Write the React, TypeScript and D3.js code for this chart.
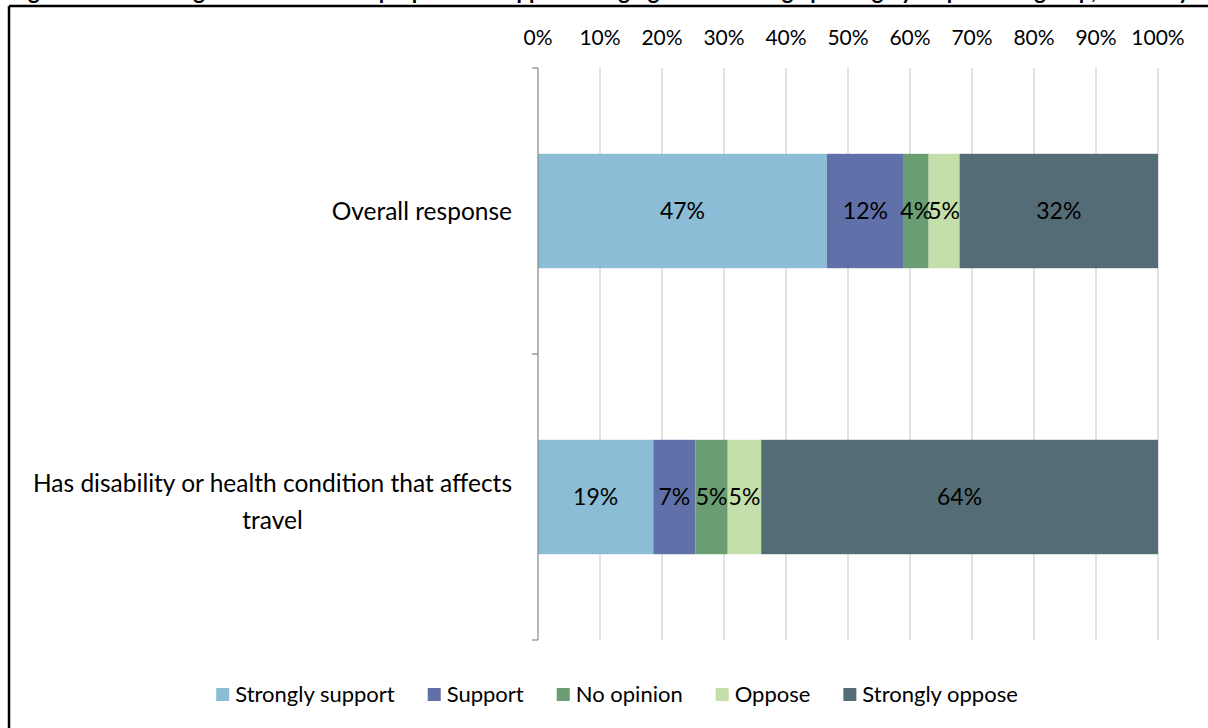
import React, { useEffect, useRef } from "react";
import * as d3 from "d3";

const categories = ["Overall response", "Has disability or health condition that affects travel"];
const categoryLines = [["Overall response"], ["Has disability or health condition that affects", "travel"]];
const seriesNames = ["Strongly support", "Support", "No opinion", "Oppose", "Strongly oppose"];
const seriesColors = ["#8cbdd6", "#6070a9", "#6a9e72", "#c4dfa9", "#546c75"];
const overallValues = [46.6, 12.4, 4.0, 5.0, 32.0];
const disabilityValues = [18.6, 6.8, 5.2, 5.4, 64.0];
const tickValues = [0, 10, 20, 30, 40, 50, 60, 70, 80, 90, 100];
const titleText = "Figure 6: Level of agreement with the proposal to support charging for blue badge parking by respondent group, disability and mobility status (%)";

const FONT = "Lato, 'Noto Sans', sans-serif";

export default function App() {
  const ref = useRef<SVGSVGElement>(null);

  useEffect(() => {
    const svg = d3.select(ref.current);
    svg.selectAll("*").remove();

    const W = 1208, H = 728;
    const left = 538, right = 1158, top = 68, bottom = 640;

    const x = d3.scaleLinear().domain([0, 100]).range([left, right]);
    const y = d3.scaleBand<string>().domain(categories).range([top, bottom]).paddingInner(0).paddingOuter(0);
    const barH = y.bandwidth() * 0.4;

    // title (clipped at top, as in the source)
    svg.append("text")
      .attr("x", 10).attr("y", -1)
      .attr("font-family", "Lato, sans-serif").attr("font-weight", "bold").attr("font-size", 22)
      .attr("fill", "#000")
      .text(titleText);

    // frame
    svg.append("line").attr("x1", 9).attr("x2", W).attr("y1", 6).attr("y2", 6)
      .attr("stroke", "#000").attr("stroke-width", 2.5);
    svg.append("line").attr("x1", 9).attr("x2", 9).attr("y1", 6).attr("y2", H)
      .attr("stroke", "#000").attr("stroke-width", 2.5);

    // gridlines
    svg.append("g").selectAll("line").data(tickValues.slice(1)).join("line")
      .attr("x1", d => x(d)).attr("x2", d => x(d))
      .attr("y1", top).attr("y2", bottom)
      .attr("stroke", "#d9d9d9").attr("stroke-width", 1.5);

    // tick labels
    svg.append("g").selectAll("text").data(tickValues).join("text")
      .attr("x", d => x(d)).attr("y", 45)
      .attr("text-anchor", "middle")
      .attr("font-family", FONT).attr("font-size", 21).attr("fill", "#000")
      .text(d => d + "%");

    // bars
    const rows = [overallValues, disabilityValues];
    rows.forEach((vals, i) => {
      const cat = categories[i];
      const by = (y(cat) as number) + (y.bandwidth() - barH) / 2;
      let acc = 0;
      const segs = vals.map((v, j) => {
        const s = { x0: acc, x1: acc + v, v, j };
        acc += v;
        return s;
      });
      const g = svg.append("g");
      g.selectAll("rect").data(segs).join("rect")
        .attr("x", d => x(d.x0)).attr("width", d => x(d.x1) - x(d.x0))
        .attr("y", by).attr("height", barH)
        .attr("fill", d => seriesColors[d.j]);
      g.selectAll("text").data(segs).join("text")
        .attr("x", d => (x(d.x0) + x(d.x1)) / 2)
        .attr("y", by + barH / 2 + 8)
        .attr("text-anchor", "middle")
        .attr("font-family", FONT).attr("font-size", 23).attr("fill", "#000")
        .text(d => Math.round(d.v) + "%");

      // category label
      const lines = categoryLines[i];
      const cy = (y(cat) as number) + y.bandwidth() / 2 + (lines.length > 1 ? 4 : 0);
      const lineH = 37;
      const t = svg.append("text")
        .attr("font-family", FONT).attr("font-size", 24.5).attr("fill", "#000")
        .attr("text-anchor", "middle");
      const tmp: any[] = [];
      lines.forEach((ln, k) => {
        tmp.push(t.append("tspan").attr("y", cy + 9 + (k - (lines.length - 1) / 2) * lineH).text(ln));
      });
      let maxW = 0;
      tmp.forEach(ts => { maxW = Math.max(maxW, (ts.node() as SVGTSpanElement).getComputedTextLength()); });
      const centerX = 512 - maxW / 2;
      tmp.forEach(ts => ts.attr("x", centerX));
    });

    // y axis line and ticks
    svg.append("line").attr("x1", left).attr("x2", left).attr("y1", top).attr("y2", bottom)
      .attr("stroke", "#868686").attr("stroke-width", 1.2);
    const ticksY = [top, ...categories.map(c => (y(c) as number) + y.bandwidth())];
    svg.append("g").selectAll("line").data(ticksY).join("line")
      .attr("x1", left - 6).attr("x2", left).attr("y1", d => d).attr("y2", d => d)
      .attr("stroke", "#868686").attr("stroke-width", 1.2);

    // legend
    const lg = svg.append("g");
    const items = seriesNames.map((name, i) => {
      const gi = lg.append("g");
      gi.append("rect").attr("width", 13).attr("height", 13).attr("y", -14).attr("fill", seriesColors[i]);
      const tx = gi.append("text").attr("x", 19).attr("y", 0)
        .attr("font-family", FONT).attr("font-size", 22).attr("fill", "#000").text(name);
      const w = 19 + (tx.node() as SVGTextElement).getComputedTextLength();
      return { gi, w };
    });
    const gap = 33;
    const total = d3.sum(items, d => d.w) + gap * (items.length - 1);
    let cx = 617 - total / 2;
    items.forEach(it => {
      it.gi.attr("transform", `translate(${cx},702)`);
      cx += it.w + gap;
    });
  }, []);

  return (
    <svg ref={ref} width={1208} height={728}
      style={{ position: "absolute", left: 0, top: 0, background: "#fff", display: "block" }} />
  );
}
